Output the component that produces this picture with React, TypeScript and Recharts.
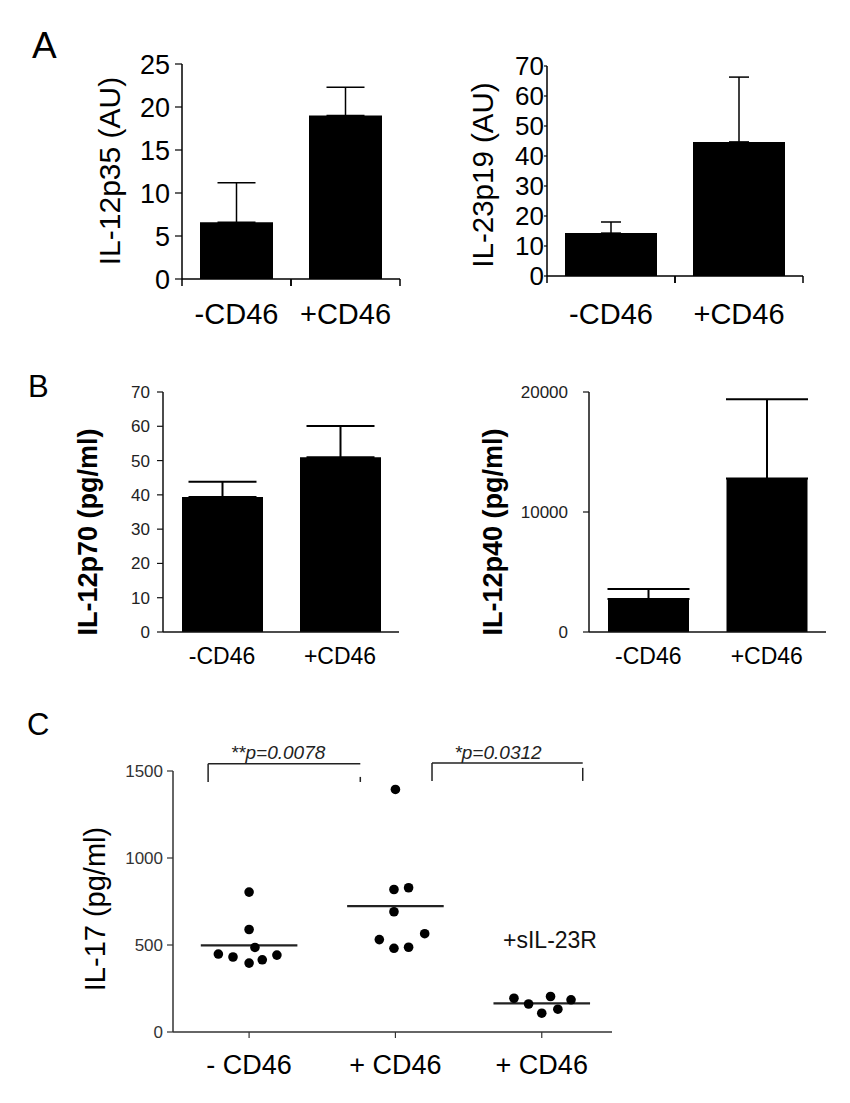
import React from 'react';
import {
  ComposedChart,
  Bar,
  XAxis,
  YAxis,
  ErrorBar,
  ScatterChart,
  Scatter,
  ReferenceLine,
} from 'recharts';

const FONT = '"Liberation Sans", Arial, Helvetica, sans-serif';

// ---------- Panel A / B data ----------
const groups = ['-CD46', '+CD46'];

const il12p35Values = [6.6, 19.0];
const il12p35Errors = [4.6, 3.3];
const il12p35Ticks = [0, 5, 10, 15, 20, 25];

const il23p19Values = [14.3, 44.7];
const il23p19Errors = [3.7, 21.6];
const il23p19Ticks = [0, 10, 20, 30, 40, 50, 60, 70];

const il12p70Values = [39.4, 51.0];
const il12p70Errors = [4.4, 9.1];
const il12p70Ticks = [0, 10, 20, 30, 40, 50, 60, 70];

const il12p40Values = [2750, 12800];
const il12p40Errors = [830, 6600];
const il12p40Ticks = [0, 10000, 20000];

// ---------- Panel C data ----------
const il17Categories = ['- CD46', '+ CD46', '+ CD46'];
const il17MinusCD46 = [804, 589, 486, 448, 431, 396, 415, 442];
const il17MinusJitter = [0, 0, 0.04, -0.21, -0.11, 0, 0.09, 0.19];
const il17PlusCD46 = [1394, 819, 829, 691, 531, 565, 481, 487];
const il17PlusJitter = [0, -0.01, 0.09, -0.01, -0.11, 0.2, -0.01, 0.09];
const il17PlusSIL23R = [194, 161, 108, 204, 131, 185];
const il17SIL23RJitter = [-0.19, -0.09, 0, 0.06, 0.11, 0.2];
const il17Means = [498, 723, 165];
const il17Ticks = [0, 500, 1000, 1500];

const bracketStart = [0.72, 2.25];
const bracketEnd = [1.76, 3.28];
const bracketTop = [1541, 1546];
const bracketBottom = [1437, 1443];
const bracketRightTop = [1466, 1518];

type BarPanelProps = {
  left: number;
  top: number;
  width: number;
  height: number;
  plotLeft: number;
  plotTop: number;
  plotRight: number;
  plotBottom: number;
  values: number[];
  errors: number[];
  ticks: number[];
  barSize: number;
  capWidth: number;
  errStroke: number;
  yFont: number;
  xFont: number;
  yTickSize: number;
  yTickMargin: number;
  xTickMargin: number;
  showSeparators: boolean;
  tickFill: string;
  axisStroke: string;
};

// Category tick: label plus (optionally) small marks at the band boundaries
function makeCategoryTick(fontSize: number, margin: number, separators: boolean, stroke: string) {
  return function CategoryTick(props: any) {
    const { x, y, payload } = props;
    const half = payload && typeof payload.offset === 'number' ? payload.offset : 0;
    const axisY = y - margin;
    return (
      <g>
        {separators && half > 0 && (
          <>
            <line x1={x - half} x2={x - half} y1={axisY} y2={axisY + 7} stroke={stroke} strokeWidth={1.5} />
            <line x1={x + half} x2={x + half} y1={axisY} y2={axisY + 7} stroke={stroke} strokeWidth={1.5} />
          </>
        )}
        <text x={x} y={y} dy="0.71em" textAnchor="middle" fill="#000" fontSize={fontSize} fontFamily={FONT}>
          {payload.value}
        </text>
      </g>
    );
  };
}

function BarPanel(p: BarPanelProps) {
  const data = groups.map((g, i) => ({
    name: g,
    value: p.values[i],
    err: [0, p.errors[i]],
  }));
  const xh = 50;
  const margin = {
    top: p.plotTop - p.top,
    right: p.left + p.width - p.plotRight,
    bottom: p.top + p.height - p.plotBottom - xh,
    left: 0,
  };
  const max = p.ticks[p.ticks.length - 1];
  const Tick = makeCategoryTick(p.xFont, p.xTickMargin, p.showSeparators, p.axisStroke);
  return (
    <div style={{ position: 'absolute', left: p.left, top: p.top, width: p.width, height: p.height }}>
      <ComposedChart width={p.width} height={p.height} data={data} margin={margin}>
        <XAxis
          dataKey="name"
          tickLine={false}
          tickSize={0}
          tickMargin={p.xTickMargin}
          height={xh}
          interval={0}
          axisLine={{ stroke: p.axisStroke, strokeWidth: 1.5 }}
          tick={<Tick />}
        />
        <YAxis
          domain={[0, max]}
          ticks={p.ticks}
          width={p.plotLeft - p.left}
          tickSize={p.yTickSize}
          tickMargin={p.yTickMargin}
          interval={0}
          allowDataOverflow
          axisLine={{ stroke: p.axisStroke, strokeWidth: 1.5 }}
          tickLine={{ stroke: p.axisStroke, strokeWidth: 1.2 }}
          tick={{ fill: p.tickFill, fontSize: p.yFont, fontFamily: FONT }}
        />
        <Bar dataKey="value" fill="#000" barSize={p.barSize} isAnimationActive={false}>
          <ErrorBar
            dataKey="err"
            direction="y"
            width={p.capWidth}
            stroke="#000"
            strokeWidth={p.errStroke}
            isAnimationActive={false}
          />
        </Bar>
      </ComposedChart>
    </div>
  );
}

function Dot(props: any) {
  const { cx, cy } = props;
  if (cx == null || cy == null) return null;
  return <circle cx={cx} cy={cy} r={4.8} fill="#000" />;
}

function PanelC() {
  const left = 0;
  const top = 700;
  const width = 850;
  const height = 403;
  const plotLeft = 173;
  const plotTop = 771;
  const plotRight = 612;
  const plotBottom = 1032;
  const xh = 60;
  const margin = {
    top: plotTop - top,
    right: left + width - plotRight,
    bottom: top + height - plotBottom - xh,
    left: 0,
  };
  const g1 = il17MinusCD46.map((v, i) => ({ x: 1 + il17MinusJitter[i], y: v }));
  const g2 = il17PlusCD46.map((v, i) => ({ x: 2 + il17PlusJitter[i], y: v }));
  const g3 = il17PlusSIL23R.map((v, i) => ({ x: 3 + il17SIL23RJitter[i], y: v }));
  return (
    <div style={{ position: 'absolute', left, top, width, height }}>
      <ScatterChart width={width} height={height} margin={margin}>
        <XAxis
          type="number"
          dataKey="x"
          domain={[0.48, 3.48]}
          ticks={[1, 2, 3]}
          allowDataOverflow
          interval={0}
          tickFormatter={(v: number) => il17Categories[v - 1]}
          height={xh}
          tickSize={6}
          tickMargin={17}
          axisLine={{ stroke: '#333', strokeWidth: 1.5 }}
          tickLine={{ stroke: '#333', strokeWidth: 1.2 }}
          tick={{ fill: '#000', fontSize: 27, fontFamily: FONT }}
        />
        <YAxis
          type="number"
          dataKey="y"
          domain={[0, 1500]}
          ticks={il17Ticks}
          allowDataOverflow
          interval={0}
          width={plotLeft - left}
          tickSize={6}
          tickMargin={4}
          axisLine={{ stroke: '#333', strokeWidth: 1.5 }}
          tickLine={{ stroke: '#333', strokeWidth: 1.2 }}
          tick={{ fill: '#333', fontSize: 17, fontFamily: FONT }}
        />
        {il17Means.map((m, i) => (
          <ReferenceLine
            key={'m' + i}
            segment={[
              { x: i + 1 - 0.33, y: m },
              { x: i + 1 + 0.33, y: m },
            ]}
            stroke="#222"
            strokeWidth={2.2}
            ifOverflow="visible"
          />
        ))}
        {bracketStart.map((s, i) => (
          <ReferenceLine
            key={'bh' + i}
            segment={[
              { x: s, y: bracketTop[i] },
              { x: bracketEnd[i], y: bracketTop[i] },
            ]}
            stroke="#222"
            strokeWidth={1.5}
            ifOverflow="visible"
          />
        ))}
        {bracketStart.map((s, i) => (
          <ReferenceLine
            key={'bl' + i}
            segment={[
              { x: s, y: bracketTop[i] },
              { x: s, y: bracketBottom[i] },
            ]}
            stroke="#222"
            strokeWidth={1.5}
            ifOverflow="visible"
          />
        ))}
        {bracketEnd.map((e, i) => (
          <ReferenceLine
            key={'br' + i}
            segment={[
              { x: e, y: bracketRightTop[i] },
              { x: e, y: bracketBottom[i] },
            ]}
            stroke="#222"
            strokeWidth={1.5}
            ifOverflow="visible"
          />
        ))}
        <Scatter data={g1} shape={<Dot />} isAnimationActive={false} />
        <Scatter data={g2} shape={<Dot />} isAnimationActive={false} />
        <Scatter data={g3} shape={<Dot />} isAnimationActive={false} />
      </ScatterChart>
    </div>
  );
}

function Overlay() {
  const rot = (x: number, y: number) => `rotate(-90 ${x} ${y})`;
  return (
    <svg
      width={850}
      height={1103}
      style={{ position: 'absolute', left: 0, top: 0, pointerEvents: 'none' }}
      fontFamily={FONT}
    >
      <text x={32} y={58} fontSize={37} fill="#000">A</text>
      <text x={28} y={397} fontSize={31} fill="#000">B</text>
      <text x={27} y={735} fontSize={31} fill="#000">C</text>

      <text x={120} y={171} fontSize={30} textAnchor="middle" transform={rot(120, 171)} fill="#000">
        IL-12p35 (AU)
      </text>
      <text x={493} y={175} fontSize={29.5} textAnchor="middle" transform={rot(493, 175)} fill="#000">
        IL-23p19 (AU)
      </text>
      <text x={97} y={532} fontSize={27} fontWeight="bold" textAnchor="middle" transform={rot(97, 532)} fill="#000">
        IL-12p70 (pg/ml)
      </text>
      <text x={502} y={532} fontSize={27} fontWeight="bold" textAnchor="middle" transform={rot(502, 532)} fill="#000">
        IL-12p40 (pg/ml)
      </text>
      <text x={105} y={909} fontSize={29} textAnchor="middle" transform={rot(105, 909)} fill="#000">
        IL-17 (pg/ml)
      </text>

      <text x={278} y={759} fontSize={19} fontStyle="italic" textAnchor="middle" fill="#222">
        **p=0.0078
      </text>
      <text x={498} y={759} fontSize={19} fontStyle="italic" textAnchor="middle" fill="#222">
        *p=0.0312
      </text>
      <text x={550} y={948} fontSize={23} textAnchor="middle" fill="#111">
        +sIL-23R
      </text>
    </svg>
  );
}

export default function App() {
  return (
    <div style={{ position: 'absolute', left: 0, top: 0, width: 850, height: 1103, background: '#fff', fontFamily: FONT }}>
      <BarPanel
        left={0}
        top={0}
        width={420}
        height={340}
        plotLeft={182}
        plotTop={64}
        plotRight={400}
        plotBottom={279}
        values={il12p35Values}
        errors={il12p35Errors}
        ticks={il12p35Ticks}
        barSize={73}
        capWidth={19}
        errStroke={1.5}
        yFont={27}
        xFont={29}
        yTickSize={7}
        yTickMargin={5}
        xTickMargin={24}
        showSeparators={true}
        tickFill="#000"
        axisStroke="#000"
      />
      <BarPanel
        left={420}
        top={0}
        width={430}
        height={340}
        plotLeft={547}
        plotTop={66}
        plotRight={803}
        plotBottom={276}
        values={il23p19Values}
        errors={il23p19Errors}
        ticks={il23p19Ticks}
        barSize={92}
        capWidth={10}
        errStroke={1.5}
        yFont={26}
        xFont={29}
        yTickSize={3}
        yTickMargin={0}
        xTickMargin={27}
        showSeparators={true}
        tickFill="#000"
        axisStroke="#000"
      />
      <BarPanel
        left={0}
        top={340}
        width={420}
        height={360}
        plotLeft={163}
        plotTop={392}
        plotRight={399}
        plotBottom={632}
        values={il12p70Values}
        errors={il12p70Errors}
        ticks={il12p70Ticks}
        barSize={81}
        capWidth={34}
        errStroke={2}
        yFont={17}
        xFont={23}
        yTickSize={6}
        yTickMargin={7}
        xTickMargin={16}
        showSeparators={false}
        tickFill="#222"
        axisStroke="#111"
      />
      <BarPanel
        left={420}
        top={340}
        width={430}
        height={360}
        plotLeft={589}
        plotTop={392}
        plotRight={826}
        plotBottom={632}
        values={il12p40Values}
        errors={il12p40Errors}
        ticks={il12p40Ticks}
        barSize={81}
        capWidth={41}
        errStroke={2}
        yFont={17}
        xFont={23}
        yTickSize={6}
        yTickMargin={15}
        xTickMargin={16}
        showSeparators={false}
        tickFill="#222"
        axisStroke="#111"
      />
      <PanelC />
      <Overlay />
    </div>
  );
}
